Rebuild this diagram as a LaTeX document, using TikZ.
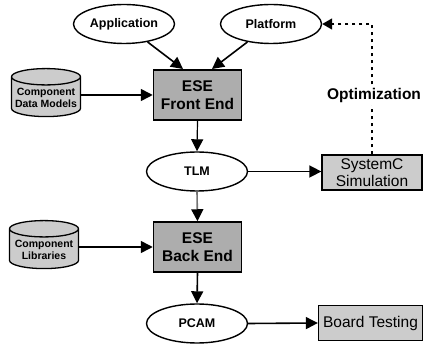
\documentclass[tikz,border=0pt]{standalone}
\usepackage{fontspec}
\setmainfont{Liberation Sans}
\usetikzlibrary{shapes.geometric,arrows.meta}
\definecolor{darkbox}{gray}{0.68}
\definecolor{lightbox}{gray}{0.8}
\tikzset{
  x=1pt,y=-1pt,
  oval/.style={ellipse,draw=black,line width=1.4pt,fill=white,minimum width=101pt,minimum height=39pt,inner sep=0pt,font=\bfseries\fontsize{12.5}{15}\selectfont},
  esebox/.style={rectangle,draw=black,line width=1.5pt,fill=darkbox,minimum width=88pt,minimum height=50pt,inner sep=0pt,align=center,font=\bfseries\fontsize{15.5}{18}\selectfont},
  simbox/.style={rectangle,draw=black,line width=1.3pt,fill=lightbox,inner sep=0pt,align=center,font=\fontsize{15.5}{17.5}\selectfont},
  store/.style={cylinder,shape border rotate=90,aspect=0.28,draw=black,line width=1.3pt,fill=lightbox,minimum width=69pt,minimum height=48pt,inner sep=0pt,font=\bfseries\fontsize{10.5}{12}\selectfont},
  storetext/.style={inner sep=0pt,align=center,font=\bfseries\fontsize{10.5}{12}\selectfont},
  flow/.style={line width=1.6pt,-{Triangle[length=12pt,width=12pt]}},
  flowgray/.style={line width=1.6pt,draw=black!55,-{Triangle[length=12pt,width=12pt,black]}},
  feedback/.style={line width=1.5pt,dash pattern=on 3.5pt off 3.5pt,-{Triangle[length=10pt,width=11pt]}}
}
\begin{document}
\begin{tikzpicture}
\useasboundingbox (0,0) rectangle (423,344);
\node[oval] (app) at (124,24) {Application};
\node[oval] (plat) at (271,24) {Platform};
\node[esebox] (fe) at (197.5,95) {ESE\\Front End};
\node[store] (cdm) at (46,97) {\phantom{Component}};
\node[storetext] (cdmt) at (46,98) {Component\\Data Models};
\node[oval] (tlm) at (197,171.5) {TLM};
\node[simbox,minimum width=100pt,minimum height=35pt] (sim) at (372,172.5) {SystemC\\Simulation};
\node[esebox] (be) at (197.5,247) {ESE\\Back End};
\node[store] (lib) at (44,249) {\phantom{Component}};
\node[storetext] (libt) at (44,250) {Component\\Libraries};
\node[oval] (pcam) at (197,323.5) {PCAM};
\node[simbox,minimum width=104pt,minimum height=35pt] (board) at (370.5,323) {Board Testing};
\coordinate (feinA) at (183,69);
\coordinate (feinB) at (212,69);
\coordinate (optcorner) at (sim.north |- plat.east);
\draw[flow] (app) -- (feinA);
\draw[flow] (plat) -- (feinB);
\draw[flow] (cdm.east |- fe.west) -- (fe.west);
\draw[flow,line width=1.2pt] (fe.south) -- (tlm.north);
\draw[flow] (tlm.east) -- (sim.west |- tlm.east);
\draw[flowgray] (tlm.south) -- (be.north);
\draw[flow] (lib.east |- be.west) -- (be.west);
\draw[flow] (be.south) -- (pcam.north);
\draw[flow] (pcam.east) -- (board.west);
\draw[feedback] (sim.north) -- (optcorner) -- (plat.east);
\node[fill=white,inner sep=3pt,font=\bfseries\fontsize{15.5}{18}\selectfont] (opt) at (374,95) {Optimization};
\end{tikzpicture}
\end{document}
